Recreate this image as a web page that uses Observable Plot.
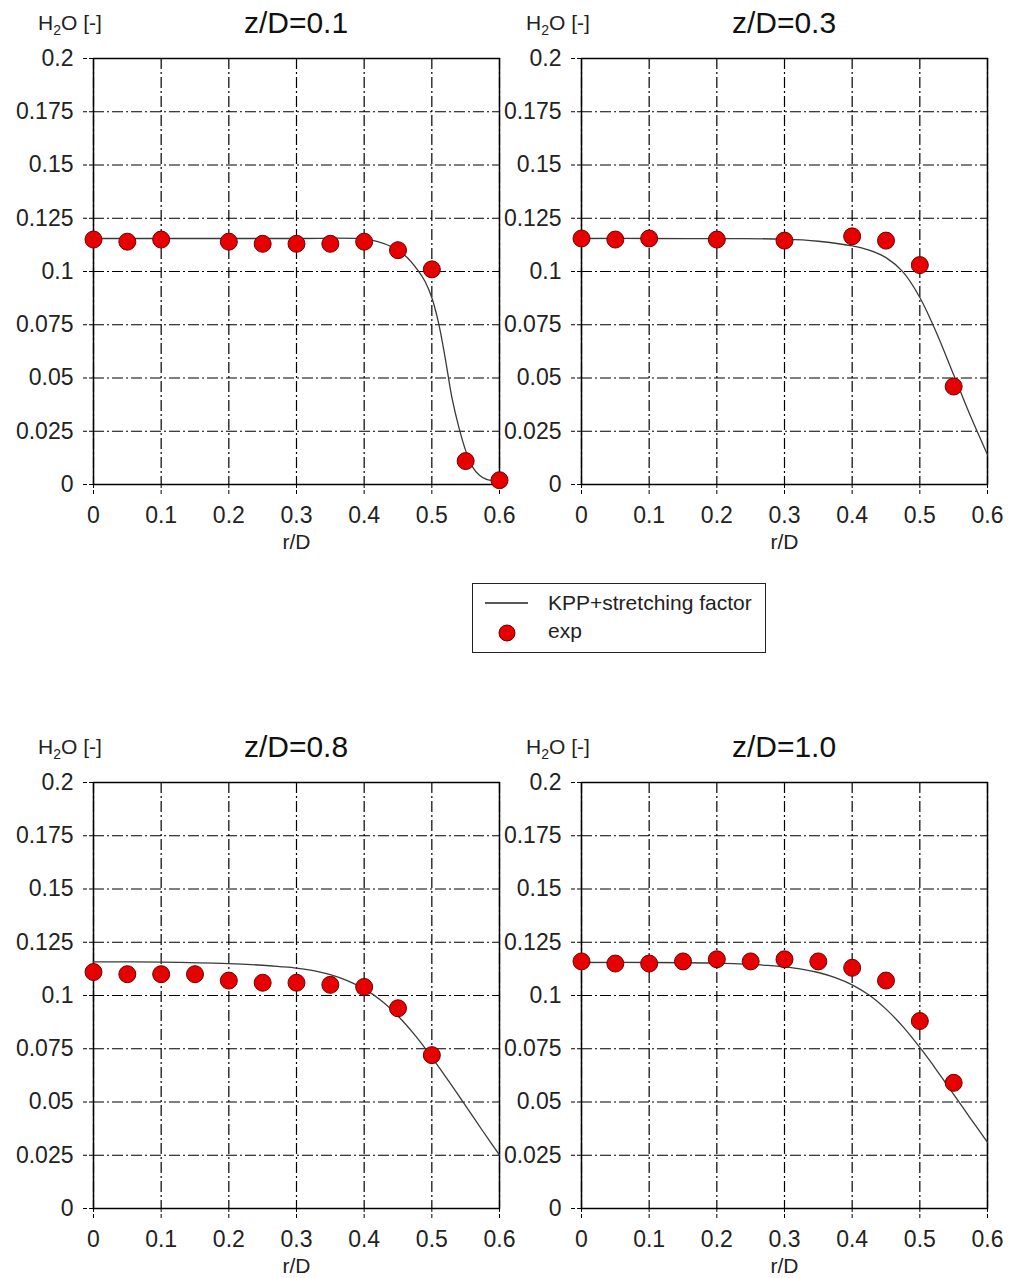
<!DOCTYPE html>
<html>
<head>
<meta charset="utf-8">
<script src="https://cdn.jsdelivr.net/npm/d3@7"></script>
<script src="https://cdn.jsdelivr.net/npm/@observablehq/plot@0.6"></script>
<style>
  body { margin: 0; background: white; }
  #root { position: relative; width: 1013px; height: 1278px; background: white; font-family: "Liberation Sans", Arial, sans-serif; color: #111; }
  .panel { position: absolute; }
  .title { position: absolute; font-size: 30px; text-align: center; width: 300px; line-height: 1; }
  .ylab { position: absolute; font-size: 21px; line-height: 1; color: #222; }
  .ylab sub { font-size: 14px; vertical-align: -5px; line-height: 0; }
  #legend { position: absolute; left: 472px; top: 583px; width: 292px; height: 68px; border: 1.5px solid #222; font-size: 21px; color: #222; }
</style>
</head>
<body>
<div id="root"></div>
<script>
// ---- data ----
const panelTitles = ["z/D=0.1", "z/D=0.3", "z/D=0.8", "z/D=1.0"];
const xTicks = [0, 0.1, 0.2, 0.3, 0.4, 0.5, 0.6];
const yTicks = [0, 0.025, 0.05, 0.075, 0.1, 0.125, 0.15, 0.175, 0.2];

// experiments (exp)
const expR01 = [0, 0.05, 0.1, 0.2, 0.25, 0.3, 0.35, 0.4, 0.45, 0.5, 0.55, 0.6];
const expH01 = [0.115, 0.114, 0.115, 0.114, 0.113, 0.113, 0.113, 0.114, 0.110, 0.101, 0.011, 0.002];
const expR03 = [0, 0.05, 0.1, 0.2, 0.3, 0.4, 0.45, 0.5, 0.55];
const expH03 = [0.1155, 0.115, 0.1155, 0.115, 0.1145, 0.1165, 0.1145, 0.103, 0.046];
const expR08 = [0, 0.05, 0.1, 0.15, 0.2, 0.25, 0.3, 0.35, 0.4, 0.45, 0.5];
const expH08 = [0.111, 0.110, 0.110, 0.110, 0.107, 0.106, 0.106, 0.105, 0.104, 0.094, 0.072];
const expR10 = [0, 0.05, 0.1, 0.15, 0.2, 0.25, 0.3, 0.35, 0.4, 0.45, 0.5, 0.55];
const expH10 = [0.116, 0.115, 0.115, 0.116, 0.117, 0.116, 0.117, 0.116, 0.113, 0.107, 0.088, 0.059];

// model (KPP+stretching factor)
const modR01 = [0, 0.1, 0.2, 0.3, 0.4, 0.42, 0.44, 0.46, 0.48, 0.49, 0.5, 0.51, 0.52, 0.53, 0.54, 0.55, 0.56, 0.57, 0.58, 0.6];
const modH01 = [0.1155, 0.1155, 0.1155, 0.1155, 0.1153, 0.1140, 0.1117, 0.1076, 0.1003, 0.0953, 0.0877, 0.0758, 0.0589, 0.0403, 0.0268, 0.0159, 0.0083, 0.0045, 0.0025, 0.0015];
const modR03 = [0, 0.1, 0.2, 0.3, 0.35, 0.4, 0.425, 0.45, 0.475, 0.5, 0.525, 0.55, 0.575, 0.6];
const modH03 = [0.1155, 0.1155, 0.1154, 0.1152, 0.1142, 0.1120, 0.1100, 0.1065, 0.0998, 0.0878, 0.0709, 0.0515, 0.0320, 0.0140];
const modR08 = [0, 0.1, 0.2, 0.25, 0.275, 0.3, 0.325, 0.35, 0.375, 0.4, 0.425, 0.45, 0.475, 0.5, 0.525, 0.55, 0.575, 0.6];
const modH08 = [0.1158, 0.1157, 0.1150, 0.1142, 0.1136, 0.1129, 0.1117, 0.1098, 0.1070, 0.1031, 0.0977, 0.0904, 0.0814, 0.0710, 0.0598, 0.0482, 0.0365, 0.0251];
const modR10 = [0, 0.1, 0.2, 0.25, 0.275, 0.3, 0.325, 0.35, 0.375, 0.4, 0.425, 0.45, 0.475, 0.5, 0.525, 0.55, 0.575, 0.6];
const modH10 = [0.1155, 0.1155, 0.1152, 0.1146, 0.1141, 0.1134, 0.1124, 0.1108, 0.1084, 0.1050, 0.1002, 0.0936, 0.0854, 0.0756, 0.0649, 0.0536, 0.0422, 0.0311];

const legendLabels = ["KPP+stretching factor", "exp"];

// ---- build ----
const zip = (xs, ys) => xs.map((x, i) => ({r: x, h: ys[i]}));
const panels = [
  {title: panelTitles[0], exp: zip(expR01, expH01), mod: zip(modR01, modH01), left: 0, top: 40},
  {title: panelTitles[1], exp: zip(expR03, expH03), mod: zip(modR03, modH03), left: 488, top: 40},
  {title: panelTitles[2], exp: zip(expR08, expH08), mod: zip(modR08, modH08), left: 0, top: 764},
  {title: panelTitles[3], exp: zip(expR10, expH10), mod: zip(modR10, modH10), left: 488, top: 764}
];

const root = document.getElementById("root");
const fmt = d => String(+d.toFixed(3));
const dash = "11,3,2,3";
const W = 510, H = 520, ML = 93, MR = 11, MT = 18, MB = 76;

for (const p of panels) {
  const chart = Plot.plot({
    width: W, height: H,
    marginLeft: ML, marginRight: MR, marginTop: MT, marginBottom: MB,
    style: {background: "none", fontFamily: "'Liberation Sans', Arial, sans-serif", fontSize: "23px", color: "#222", overflow: "visible"},
    x: {domain: [0, 0.6]},
    y: {domain: [0, 0.2]},
    marks: [
      Plot.gridX(xTicks, {stroke: "#000", strokeOpacity: 1, strokeWidth: 1.2, strokeDasharray: dash}),
      Plot.gridY(yTicks, {stroke: "#000", strokeOpacity: 1, strokeWidth: 1.2, strokeDasharray: dash}),
      Plot.axisX(xTicks, {tickFormat: fmt, tickSize: 10, tickPadding: 12, label: null, strokeDasharray: "4,2", stroke: "#000"}),
      Plot.axisY(yTicks, {tickFormat: fmt, tickSize: 10, tickPadding: 10, label: null, strokeDasharray: "4,2", stroke: "#000"}),
      Plot.frame({stroke: "#000", strokeWidth: 1.5}),
      Plot.text(["r/D"], {frameAnchor: "bottom", dy: 64, fontSize: 21, fill: "#222"}),
      Plot.line(p.mod, {x: "r", y: "h", stroke: "#3a3a3a", strokeWidth: 1.3, curve: "catmull-rom"}),
      Plot.dot(p.exp, {x: "r", y: "h", r: 8.5, fill: "#e60000", stroke: "#700000", strokeWidth: 1})
    ]
  });
  const wrap = document.createElement("div");
  wrap.className = "panel";
  wrap.style.left = p.left + "px";
  wrap.style.top = p.top + "px";
  wrap.appendChild(chart);
  root.appendChild(wrap);

  const t = document.createElement("div");
  t.className = "title";
  t.textContent = p.title;
  t.style.left = (p.left + ML + (W - ML - MR) / 2 - 150) + "px";
  t.style.top = (p.top - 32) + "px";
  root.appendChild(t);

  const yl = document.createElement("div");
  yl.className = "ylab";
  yl.innerHTML = "H<sub>2</sub>O [-]";
  yl.style.left = (p.left + 38) + "px";
  yl.style.top = (p.top - 28) + "px";
  root.appendChild(yl);
}

// legend
const lg = document.createElement("div");
lg.id = "legend";
lg.innerHTML = `
<svg width="292" height="68" style="position:absolute;left:0;top:0">
  <line x1="12" x2="55" y1="19" y2="19" stroke="#222" stroke-width="1.3"/>
  <circle cx="34" cy="49" r="8" fill="#e60000" stroke="#700000" stroke-width="1"/>
</svg>
<div style="position:absolute;left:75px;top:8px;line-height:1">${legendLabels[0]}</div>
<div style="position:absolute;left:75px;top:36px;line-height:1">${legendLabels[1]}</div>`;
root.appendChild(lg);
</script>
</body>
</html>
